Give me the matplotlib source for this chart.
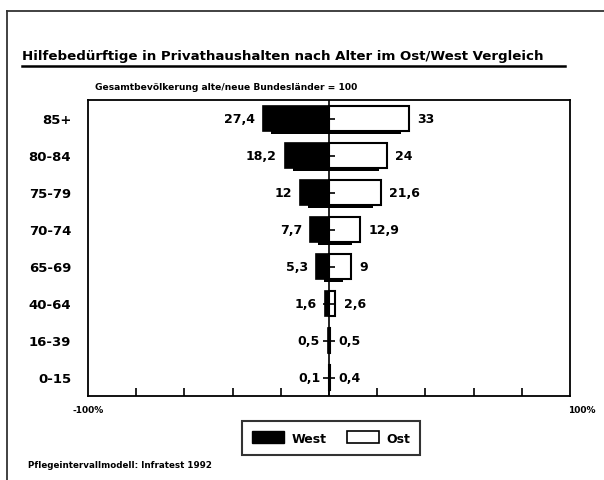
import matplotlib
matplotlib.use("Agg")
import matplotlib.pyplot as plt
from matplotlib.patches import Patch
from matplotlib.lines import Line2D
import numpy as np

categories = ["85+", "80-84", "75-79", "70-74", "65-69", "40-64", "16-39", "0-15"]
west = [27.4, 18.2, 12, 7.7, 5.3, 1.6, 0.5, 0.1]
ost = [33, 24, 21.6, 12.9, 9, 2.6, 0.5, 0.4]
west_labels = ["27,4", "18,2", "12", "7,7", "5,3", "1,6", "0,5", "0,1"]
ost_labels = ["33", "24", "21,6", "12,9", "9", "2,6", "0,5", "0,4"]
tick_labels = ["-100%", "100%"]

title = "Hilfebedürftige in Privathaushalten nach Alter im Ost/West Vergleich"
subtitle = "Gesamtbevölkerung alte/neue Bundesländer = 100"
source = "Pflegeintervallmodell: Infratest 1992"

plt.rcParams['font.family'] = ['DejaVu Sans']
plt.rcParams['font.weight'] = 'bold'

W, H = 604, 481
fig = plt.figure(figsize=(W / 100, H / 100), dpi=100)
fig.patch.set_facecolor('white')

ax = fig.add_axes([88 / W, 1 - 397 / H, (570 - 88) / W, (397 - 101) / H])

n = len(categories)
y = np.arange(n)[::-1].astype(float)
west_a = np.array(west)
ost_a = np.array(ost)
bh = 0.68
dy = 0.09
dx = 3.3

# shadows
ax.barh(y - dy, -np.maximum(west_a - dx, 0), height=bh, color='black', zorder=1)
ax.barh(y - dy, np.maximum(ost_a - dx, 0), height=bh, color='black', zorder=1)
# bars
ax.barh(y, -west_a, height=bh, color='black', edgecolor='black', linewidth=1.2, zorder=2)
ax.barh(y, ost_a, height=bh, color='white', edgecolor='black', linewidth=1.5, zorder=2)

ax.axvline(0, color='black', lw=1.2, zorder=3)
ax.plot(np.zeros(n), y, ls='none', marker='_', ms=9, mew=1.2, color='black', zorder=4)

for yi, v, lab in zip(y, west_a, west_labels):
    ax.annotate(lab, (-v, yi), xytext=(-6, 0), textcoords='offset points',
                ha='right', va='center', fontsize=9, fontweight='bold')
for yi, v, lab in zip(y, ost_a, ost_labels):
    ax.annotate(lab, (v, yi), xytext=(6, 0), textcoords='offset points',
                ha='left', va='center', fontsize=9, fontweight='bold')

ax.set_xlim(-100, 100)
ax.set_ylim(-0.5, n - 0.5)
ax.set_yticks(y)
ax.set_yticklabels(categories, fontsize=9.5, fontweight='bold')
ax.tick_params(axis='y', length=0, pad=12)
ax.set_xticks(np.arange(-80, 81, 20))
ax.set_xticklabels([])
ax.tick_params(axis='x', direction='in', length=6, width=1.2)
for s in ax.spines.values():
    s.set_linewidth(1.3)

ax.text(-100, -0.75, tick_labels[0], ha='center', va='top', fontsize=6.5, fontweight='bold')
ax.text(105, -0.75, tick_labels[1], ha='center', va='top', fontsize=6.5, fontweight='bold')

# title and decorations
fig.text(22 / W, 1 - 57 / H, title, ha='left', va='center', fontsize=9.6, fontweight='bold')
fig.add_artist(Line2D([22 / W, 565 / W], [1 - 67 / H, 1 - 67 / H], color='black', lw=1.8))
fig.text(95 / W, 1 - 88 / H, subtitle, ha='left', va='center', fontsize=6.6, fontweight='bold')
fig.text(28 / W, 1 - 466 / H, source, ha='left', va='center', fontsize=6.3, fontweight='bold')

# outer frame
fig.add_artist(Line2D([7 / W, 7 / W], [0, 1 - 12 / H], color='#333333', lw=1.3))
fig.add_artist(Line2D([7 / W, 1], [1 - 12 / H, 1 - 12 / H], color='#333333', lw=1.3))

handles = [Patch(facecolor='black', edgecolor='black', label='West'),
           Patch(facecolor='white', edgecolor='black', linewidth=1.2, label='Ost')]
leg = fig.legend(handles=handles, loc='center', bbox_to_anchor=(331 / W, 1 - 439 / H),
                 ncol=2, frameon=True, fancybox=False, edgecolor='black',
                 prop={'weight': 'bold', 'size': 9}, handlelength=2.6, handleheight=1.1,
                 columnspacing=1.6, borderpad=0.8, handletextpad=0.6)
leg.get_frame().set_linewidth(1.5)

fig.savefig('out.png', dpi=100, facecolor='white')
